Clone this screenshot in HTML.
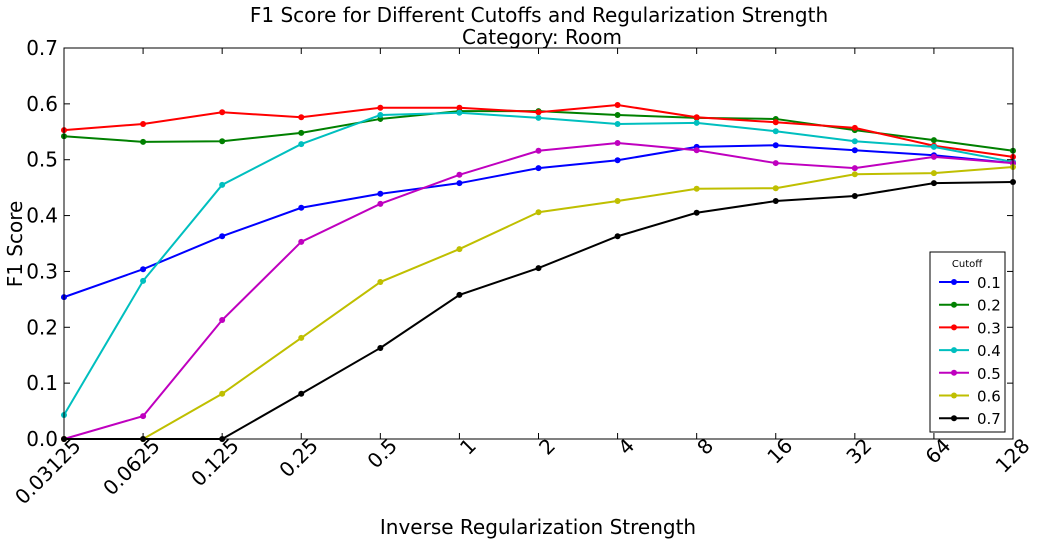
<!DOCTYPE html>
<html><head><meta charset="utf-8"><style>
body{margin:0;background:#fff;width:1039px;height:544px;overflow:hidden}
svg{font-family:"DejaVu Sans","Liberation Sans",sans-serif}
</style></head><body>
<svg id="chart" width="1039" height="544">
<text x="539" y="22" font-size="20" text-anchor="middle">F1 Score for Different Cutoffs and Regularization Strength</text>
<text x="542" y="44" font-size="20" text-anchor="middle">Category: Room</text>
<text x="538" y="534" font-size="20" text-anchor="middle">Inverse Regularization Strength</text>
<text transform="translate(22,244) rotate(-90)" font-size="20" text-anchor="middle">F1 Score</text>
<g id="marks"></g>
<rect x="64" y="48" width="949" height="391" fill="none" stroke="#000" stroke-width="1"/>
<g id="axes"></g>
<g id="legend"></g>
</svg>
<script>
const categories=["0.03125","0.0625","0.125","0.25","0.5","1","2","4","8","16","32","64","128"];
const yTicks=[0,0.1,0.2,0.3,0.4,0.5,0.6,0.7];
const seriesNames=["0.1","0.2","0.3","0.4","0.5","0.6","0.7"];
const seriesColors=["#0000ff","#008000","#ff0000","#00bfbf","#bf00bf","#bfbf00","#000000"];
const s01=[0.254,0.304,0.363,0.414,0.439,0.458,0.485,0.499,0.523,0.526,0.517,0.508,0.494];
const s02=[0.542,0.532,0.533,0.548,0.573,0.587,0.587,0.580,0.575,0.573,0.553,0.535,0.516];
const s03=[0.553,0.564,0.585,0.576,0.593,0.593,0.585,0.598,0.576,0.567,0.557,0.525,0.505];
const s04=[0.043,0.283,0.455,0.528,0.580,0.584,0.575,0.564,0.566,0.551,0.533,0.523,0.496];
const s05=[0,0.041,0.213,0.353,0.421,0.473,0.516,0.530,0.517,0.494,0.485,0.505,0.494];
const s06=[0,0,0.081,0.181,0.281,0.340,0.406,0.426,0.448,0.449,0.474,0.476,0.487];
const s07=[0,0,0,0.081,0.163,0.258,0.306,0.363,0.405,0.426,0.435,0.458,0.460];
const seriesValues=[s01,s02,s03,s04,s05,s06,s07];
const NS="http://www.w3.org/2000/svg";
const X0=64,X1=1013,Y0=439,Y1=48,YMAX=0.7;
const xs=i=>X0+(X1-X0)*i/(categories.length-1);
const ys=v=>Y0-(Y0-Y1)*v/YMAX;
function mk(tag,attrs,parent){const e=document.createElementNS(NS,tag);for(const k in attrs)e.setAttribute(k,attrs[k]);parent.appendChild(e);return e;}
const axes=document.getElementById('axes'),marks=document.getElementById('marks'),leg=document.getElementById('legend');
yTicks.forEach(v=>{
 const y=ys(v);
 const l=mk('line',{x1:X0,x2:X0+6,y1:y,y2:y,stroke:'#000'},axes);
 
 
 const l2=mk('line',{x1:X1-6,x2:X1,y1:y,y2:y,stroke:'#000'},axes);
 
 
 const t=mk('text',{x:X0-6,y:y+7,'font-size':20,'text-anchor':'end'},axes);
 t.textContent=v.toFixed(1);
 
 
});
categories.forEach((c,i)=>{
 const x=xs(i);
 const l=mk('line',{x1:x,x2:x,y1:Y0,y2:Y0-6,stroke:'#000'},axes);
 
 
 const l2=mk('line',{x1:x,x2:x,y1:Y1,y2:Y1+6,stroke:'#000'},axes);
 
 
 const t=mk('text',{transform:`translate(${x+18},${Y0+8}) rotate(-45)`,'font-size':20,'text-anchor':'end'},axes);
 t.textContent=c;
 
 
});
seriesValues.forEach((vals,si)=>{
 const g=mk('g',{},marks);
 
 
 const p=mk('polyline',{points:vals.map((v,i)=>xs(i)+','+ys(v)).join(' '),fill:'none',stroke:seriesColors[si],'stroke-width':2},g);
 
 
 vals.forEach((v,i)=>{
  const c=mk('circle',{cx:xs(i),cy:ys(v),r:3,fill:seriesColors[si]},g);
  
  
 });
});
const lb=mk('rect',{x:930,y:252,width:75,height:180,fill:'#fff',stroke:'#000'},leg);


const lt=mk('text',{x:967,y:267,'font-size':10,'text-anchor':'middle'},leg);
lt.textContent='Cutoff';


seriesNames.forEach((n,i)=>{
 const y=282+i*22.7;
 const g=mk('g',{},leg);
 
 
 mk('line',{x1:939,x2:969,y1:y,y2:y,stroke:seriesColors[i],'stroke-width':2},g);
 mk('circle',{cx:954,cy:y,r:3,fill:seriesColors[i]},g);
 const t=mk('text',{x:977,y:y+6,'font-size':15},g);
 t.textContent=n;
});
</script>
</body></html>
